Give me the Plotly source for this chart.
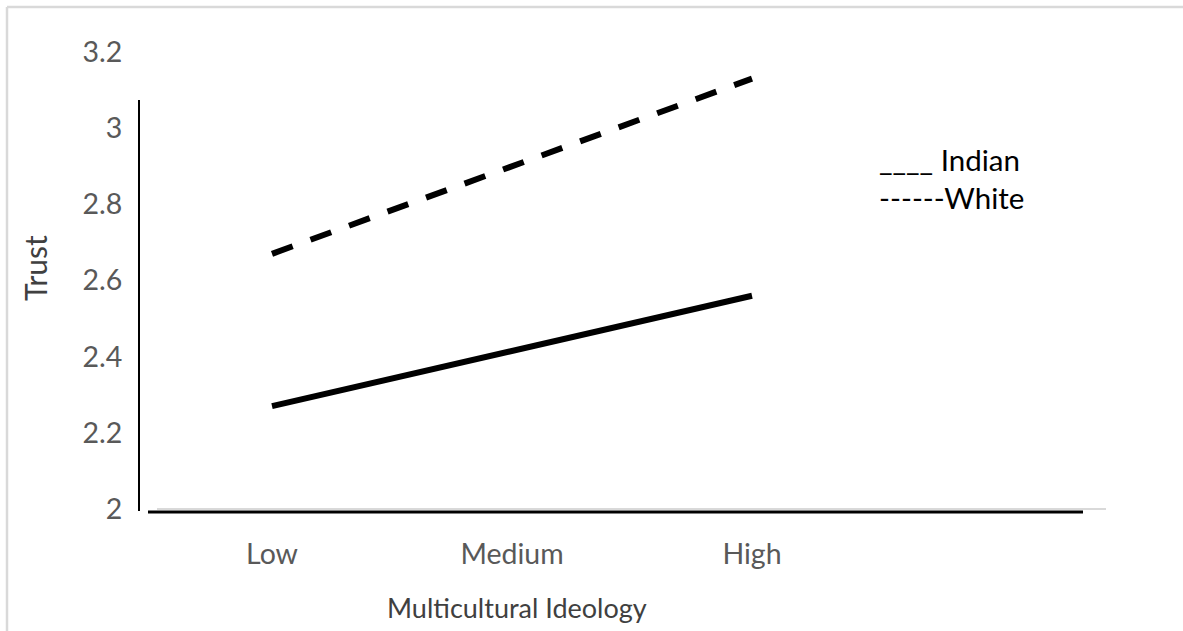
import plotly.graph_objects as go

# Trust by level of multicultural ideology, per group
levels = ["Low", "Medium", "High"]
indian = [2.27, 2.415, 2.56]
white = [2.67, 2.90, 3.13]
y_ticks = [2.0, 2.2, 2.4, 2.6, 2.8, 3.0, 3.2]

W, H = 1183, 631
L, R, T, B = 152, 1112, 52, 509  # plot area in pixels


def px(x):
    return (x - L) / (R - L)


def py(y):
    return (B - y) / (B - T)


FONT = "Lato"
fig = go.Figure()
fig.add_trace(go.Scatter(x=levels, y=indian, mode="lines", name="Indian",
                         line=dict(color="black", width=6)))
fig.add_trace(go.Scatter(x=levels, y=white, mode="lines", name="White",
                         line=dict(color="black", width=6, dash="22px,19px")))

shapes = [
    # outer chart frame
    dict(type="line", xref="paper", yref="paper", x0=px(7), x1=px(W + 5), y0=py(7), y1=py(7),
         line=dict(color="#d9d9d9", width=2.5)),
    dict(type="line", xref="paper", yref="paper", x0=px(7), x1=px(7), y0=py(7), y1=py(H + 5),
         line=dict(color="#d9d9d9", width=2.5)),
    # baseline gridline
    dict(type="line", xref="paper", yref="paper", x0=px(157), x1=px(1106), y0=py(509), y1=py(509),
         line=dict(color="#d9d9d9", width=2)),
    # hand drawn axes
    dict(type="line", xref="paper", yref="paper", x0=px(139), x1=px(139), y0=py(100), y1=py(511),
         line=dict(color="black", width=2)),
    dict(type="line", xref="paper", yref="paper", x0=px(148), x1=px(1083), y0=py(512), y1=py(512),
         line=dict(color="black", width=3)),
]

annotations = [
    dict(text="Trust", xref="paper", yref="paper", x=px(35), y=py(268), textangle=-90,
         showarrow=False, font=dict(family=FONT, size=30, color="#404040"),
         xanchor="center", yanchor="middle"),
    dict(text="Multicultural Ideology", xref="paper", yref="paper", x=px(517), y=py(607),
         showarrow=False, font=dict(family=FONT, size=27, color="#404040"),
         xanchor="center", yanchor="middle"),
    dict(text="____ Indian", xref="paper", yref="paper", x=px(877), y=py(159),
         showarrow=False, font=dict(family=FONT, size=29.5, color="black"),
         xanchor="left", yanchor="middle"),
    dict(text="------White", xref="paper", yref="paper", x=px(877), y=py(197),
         showarrow=False, font=dict(family=FONT, size=29.5, color="black"),
         xanchor="left", yanchor="middle"),
]

fig.update_layout(
    width=W, height=H,
    margin=dict(l=L, r=W - R, t=T, b=H - B),
    paper_bgcolor="white", plot_bgcolor="white",
    showlegend=False,
    shapes=shapes, annotations=annotations,
    xaxis=dict(type="category", categoryorder="array", categoryarray=levels,
               range=[-0.5, 3.5], showgrid=False, zeroline=False, showline=False,
               ticks="outside", ticklen=20, tickcolor="rgba(0,0,0,0)",
               tickfont=dict(family=FONT, size=28.5, color="#595959")),
    yaxis=dict(range=[2.0, 3.2], tickvals=y_ticks, ticktext=[f"{v:g}" for v in y_ticks],
               showgrid=False, zeroline=False, showline=False,
               ticks="outside", ticklen=23, tickcolor="rgba(0,0,0,0)",
               tickfont=dict(family=FONT, size=28.5, color="#595959")),
)

fig.write_html("out.html")
